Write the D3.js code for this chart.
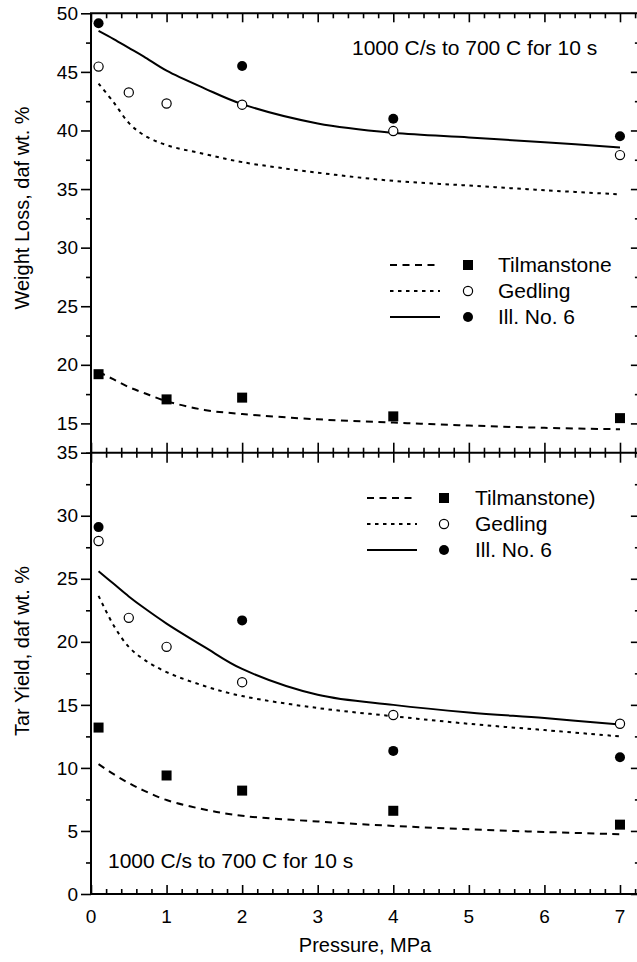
<!DOCTYPE html>
<html>
<head>
<meta charset="utf-8">
<script src="https://cdn.jsdelivr.net/npm/d3@7"></script>
<style>
  html, body { margin: 0; padding: 0; background: #fff; }
  svg { display: block; font-family: "Liberation Sans", Arial, Helvetica, sans-serif; }
</style>
</head>
<body>
<svg id="chart"></svg>
<script>
// model curves share one pressure grid
const modelP = [0.1, 0.3, 0.5, 0.7, 1, 1.5, 2, 3, 4, 5, 6, 7];

// weight loss (top panel)
const wlIllModel = [48.5, 47.8, 47.05, 46.3, 45.1, 43.6, 42.25, 40.6, 39.8, 39.4, 39.0, 38.55];
const wlGedModel = [44.0, 42.4, 40.65, 39.6, 38.75, 38.0, 37.3, 36.4, 35.7, 35.3, 34.9, 34.55];
const wlTilModel = [19.4, 18.75, 18.1, 17.6, 16.9, 16.15, 15.8, 15.35, 15.07, 14.82, 14.62, 14.5];

// tar yield (bottom panel)
const tyIllModel = [25.6, 24.6, 23.6, 22.7, 21.45, 19.6, 17.85, 15.8, 15.0, 14.4, 13.95, 13.45];
const tyGedModel = [23.65, 21.3, 19.6, 18.6, 17.6, 16.5, 15.7, 14.75, 14.1, 13.5, 13.0, 12.5];
const tyTilModel = [10.3, 9.5, 8.8, 8.2, 7.45, 6.7, 6.2, 5.75, 5.4, 5.13, 4.92, 4.74];

// measured points
const illP = [0.1, 2, 4, 7];
const gedP = [0.1, 0.5, 1, 2, 4, 7];
const tilP = [0.1, 1, 2, 4, 7];
const wlIll = [49.15, 45.5, 41.0, 39.5];
const wlGed = [45.45, 43.25, 42.3, 42.2, 39.95, 37.9];
const wlTil = [19.2, 17.05, 17.2, 15.6, 15.45];
const tyIll = [29.1, 21.7, 11.35, 10.85];
const tyGed = [28.0, 21.9, 19.6, 16.8, 14.2, 13.5];
const tyTil = [13.2, 9.4, 8.2, 6.6, 5.5];

const xTicks = [0, 1, 2, 3, 4, 5, 6, 7];
const wlTicks = [15, 20, 25, 30, 35, 40, 45, 50];
const tyTicks = [0, 5, 10, 15, 20, 25, 30, 35];

const width = 637, height = 962;
const svg = d3.select('#chart').attr('width', width).attr('height', height);
svg.append('rect').attr('width', width).attr('height', height).attr('fill', '#fff');

const x = d3.scaleLinear().domain([0, 7.25]).range([91, 91 + 7.25 * 75.57]);
const yTop = d3.scaleLinear().domain([12.5, 50]).range([452.7, 13.3]);
const yBot = d3.scaleLinear().domain([0, 35]).range([894, 452.7]);

const xMinor = d3.range(0, 37).filter(i => i % 5 !== 0).map(i => i / 5);
const wlMinor = d3.range(12.5, 50, 5);
const tyMinor = d3.range(2.5, 35, 5);

const dashStyles = { til: '7,5.5', ged: '3.5,4.5', ill: null };

function tickAxis(axis, y0, x0, vals, size) {
    const g = svg.append('g')
        .attr('transform', `translate(${x0},${y0})`)
        .call(axis.tickValues(vals).tickSize(size).tickSizeOuter(0).tickFormat(''));
    g.select('.domain').remove();
    g.selectAll('line').attr('stroke', '#000').attr('stroke-width', 1.6);
    return g;
}

// x ticks: top of top panel (inward), middle (crossing), bottom (inward)
tickAxis(d3.axisBottom(x), yTop(50), 0, xTicks, 9);
tickAxis(d3.axisBottom(x), yTop(50), 0, xMinor, 5);
tickAxis(d3.axisTop(x), yBot(35), 0, xTicks, 10);
tickAxis(d3.axisTop(x), yBot(35), 0, xMinor, 5);
tickAxis(d3.axisBottom(x), yBot(35), 0, xTicks, 10);
tickAxis(d3.axisBottom(x), yBot(35), 0, xMinor, 5);
tickAxis(d3.axisTop(x), yBot(0), 0, xTicks, 9);
tickAxis(d3.axisTop(x), yBot(0), 0, xMinor, 5);

// y ticks: left outward, right inward
const xR = x(7.25);
tickAxis(d3.axisLeft(yTop), 0, x(0), wlTicks, 10);
tickAxis(d3.axisLeft(yTop), 0, x(0), wlMinor, 5);
tickAxis(d3.axisLeft(yBot), 0, x(0), tyTicks, 10);
tickAxis(d3.axisLeft(yBot), 0, x(0), tyMinor, 5);
tickAxis(d3.axisLeft(yTop), 0, xR, wlTicks.filter(v => v < 50), 8);
tickAxis(d3.axisLeft(yTop), 0, xR, wlMinor, 4);
tickAxis(d3.axisLeft(yBot), 0, xR, tyTicks.filter(v => v < 35), 8);
tickAxis(d3.axisLeft(yBot), 0, xR, tyMinor, 4);

// frame lines
const frame = svg.append('g').attr('stroke', '#000').attr('stroke-width', 2).attr('fill', 'none');
frame.append('line').attr('x1', x(0)).attr('x2', x(0)).attr('y1', yTop(50)).attr('y2', yBot(0));
frame.append('line').attr('x1', xR).attr('x2', xR).attr('y1', yTop(50)).attr('y2', yBot(0));
[yTop(50), yBot(35), yBot(0)].forEach(yy => {
    frame.append('line').attr('x1', x(0) - 1).attr('x2', xR).attr('y1', yy).attr('y2', yy);
});

// tick labels
const lab = svg.append('g').attr('font-size', 19).attr('fill', '#000');
wlTicks.forEach(v => lab.append('text').attr('x', 78).attr('y', yTop(v)).attr('dy', '0.35em')
    .attr('text-anchor', 'end').text(v));
tyTicks.forEach(v => lab.append('text').attr('x', 78).attr('y', yBot(v)).attr('dy', '0.35em')
    .attr('text-anchor', 'end').text(v));
xTicks.forEach(v => lab.append('text').attr('x', x(v)).attr('y', 923)
    .attr('text-anchor', 'middle').text(v));

// axis titles
svg.append('text').attr('transform', 'translate(29,208) rotate(-90)')
    .attr('text-anchor', 'middle').attr('font-size', 20).text('Weight Loss, daf wt. %');
svg.append('text').attr('transform', 'translate(29,651) rotate(-90)')
    .attr('text-anchor', 'middle').attr('font-size', 20).text('Tar Yield, daf wt. %');
svg.append('text').attr('x', 365).attr('y', 952)
    .attr('text-anchor', 'middle').attr('font-size', 20).text('Pressure, MPa');

// annotations
svg.append('text').attr('x', 352).attr('y', 55).attr('font-size', 21).text('1000 C/s to 700 C for 10 s');
svg.append('text').attr('x', 108).attr('y', 868).attr('font-size', 21).text('1000 C/s to 700 C for 10 s');

function drawModel(yScale, vals, dash) {
    const line = d3.line().x((d, i) => x(modelP[i])).y(d => yScale(d)).curve(d3.curveCatmullRom.alpha(0.5));
    svg.append('path').datum(vals).attr('d', line)
        .attr('fill', 'none').attr('stroke', '#000').attr('stroke-width', 2)
        .attr('stroke-dasharray', dash);
}

function drawPoints(yScale, ps, vals, kind) {
    const g = svg.append('g');
    vals.forEach((v, i) => {
        const cx = x(ps[i]), cy = yScale(v);
        if (kind === 'til') {
            g.append('rect').attr('x', cx - 5).attr('y', cy - 5).attr('width', 10).attr('height', 10).attr('fill', '#000');
        } else if (kind === 'ged') {
            g.append('circle').attr('cx', cx).attr('cy', cy).attr('r', 4.6)
                .attr('fill', '#fff').attr('stroke', '#000').attr('stroke-width', 1.2);
        } else {
            g.append('circle').attr('cx', cx).attr('cy', cy).attr('r', 5).attr('fill', '#000');
        }
    });
}

drawModel(yTop, wlTilModel, dashStyles.til);
drawModel(yTop, wlGedModel, dashStyles.ged);
drawModel(yTop, wlIllModel, dashStyles.ill);
drawModel(yBot, tyTilModel, dashStyles.til);
drawModel(yBot, tyGedModel, dashStyles.ged);
drawModel(yBot, tyIllModel, dashStyles.ill);

drawPoints(yTop, tilP, wlTil, 'til');
drawPoints(yTop, gedP, wlGed, 'ged');
drawPoints(yTop, illP, wlIll, 'ill');
drawPoints(yBot, tilP, tyTil, 'til');
drawPoints(yBot, gedP, tyGed, 'ged');
drawPoints(yBot, illP, tyIll, 'ill');

// legends
function legend(x0, y0, names, lineX0, lineX1, markX) {
    const kinds = ['til', 'ged', 'ill'];
    kinds.forEach((k, i) => {
        const yy = y0 + i * 26;
        svg.append('line').attr('x1', lineX0).attr('x2', lineX1).attr('y1', yy).attr('y2', yy)
            .attr('stroke', '#000').attr('stroke-width', 2).attr('stroke-dasharray', dashStyles[k]);
        if (k === 'til') {
            svg.append('rect').attr('x', markX - 5).attr('y', yy - 5).attr('width', 10).attr('height', 10).attr('fill', '#000');
        } else if (k === 'ged') {
            svg.append('circle').attr('cx', markX).attr('cy', yy).attr('r', 4.6)
                .attr('fill', '#fff').attr('stroke', '#000').attr('stroke-width', 1.2);
        } else {
            svg.append('circle').attr('cx', markX).attr('cy', yy).attr('r', 5).attr('fill', '#000');
        }
        svg.append('text').attr('x', x0).attr('y', yy).attr('dy', '0.35em')
            .attr('font-size', 21).text(names[i]);
    });
}
legend(498, 265, ['Tilmanstone', 'Gedling', 'Ill. No. 6'], 390, 440, 468);
legend(475, 498, ['Tilmanstone)', 'Gedling', 'Ill. No. 6'], 367, 417, 444);
</script>
</body>
</html>
